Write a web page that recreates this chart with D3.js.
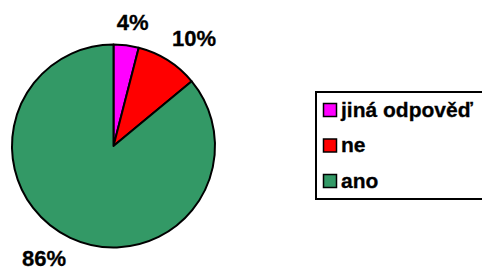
<!DOCTYPE html>
<html>
<head>
<meta charset="utf-8">
<script src="https://cdn.jsdelivr.net/npm/d3@7"></script>
<style>
  body { margin: 0; background: #fff; }
  text { font-family: "Liberation Sans", Arial, sans-serif; font-weight: bold; fill: #000; }
</style>
</head>
<body>
<div id="chart"></div>
<script>
// data
var categories = ["jiná odpověď", "ne", "ano"];
var values = [4, 10, 86];
var colors = ["#ff00ff", "#ff0000", "#339966"];

// label nudges (layout only)
var labelNudge = [[3, 3], [12, 0], [-15, -4]];

var width = 482, height = 271;
var cx = 113.5, cy = 146, radius = 101.5;

var svg = d3.select("#chart").append("svg")
            .attr("width", width)
            .attr("height", height);

var pie = d3.pie().sort(null).value(function(d) { return d; });
var arcs = pie(values);

var arc = d3.arc().innerRadius(0).outerRadius(radius);
var labelArc = d3.arc().innerRadius(128).outerRadius(128);

var g = svg.append("g").attr("transform", "translate(" + cx + "," + cy + ")");

g.selectAll("path")
 .data(arcs)
 .enter()
 .append("path")
 .attr("d", arc)
 .attr("fill", function(d, i) { return colors[i]; })
 .attr("stroke", "#000")
 .attr("stroke-width", 2)
 .attr("stroke-linejoin", "round");

g.selectAll("text.lbl")
 .data(arcs)
 .enter()
 .append("text")
 .attr("class", "lbl")
 .attr("x", function(d, i) { return labelArc.centroid(d)[0] + labelNudge[i][0]; })
 .attr("y", function(d, i) { return labelArc.centroid(d)[1] + labelNudge[i][1]; })
 .attr("dy", "0.36em")
 .attr("text-anchor", "middle")
 .style("font-size", "22px")
 .style("stroke", "#000")
 .style("stroke-width", 0.3)
 .text(function(d) { return d.data + "%"; });

// legend
var legend = svg.append("g").attr("transform", "translate(316,92)");

legend.append("rect")
      .attr("x", 0)
      .attr("y", 0)
      .attr("width", 200)
      .attr("height", 107)
      .attr("fill", "#fff")
      .attr("stroke", "#000")
      .attr("stroke-width", 2);

var ly = d3.scalePoint().domain(categories).range([18, 89]);

var item = legend.selectAll("g.item")
                 .data(categories)
                 .enter()
                 .append("g")
                 .attr("class", "item")
                 .attr("transform", function(d) { return "translate(0," + ly(d) + ")"; });

item.append("rect")
    .attr("x", 7.5)
    .attr("y", -6.5)
    .attr("width", 13)
    .attr("height", 13)
    .attr("fill", function(d, i) { return colors[i]; })
    .attr("stroke", "#000")
    .attr("stroke-width", 1.5);

item.append("text")
    .attr("x", 25)
    .attr("y", 6.5)
    .style("font-size", "21px")
    .style("stroke", "#000")
    .style("stroke-width", 0.3)
    .text(function(d) { return d; });
</script>
</body>
</html>
